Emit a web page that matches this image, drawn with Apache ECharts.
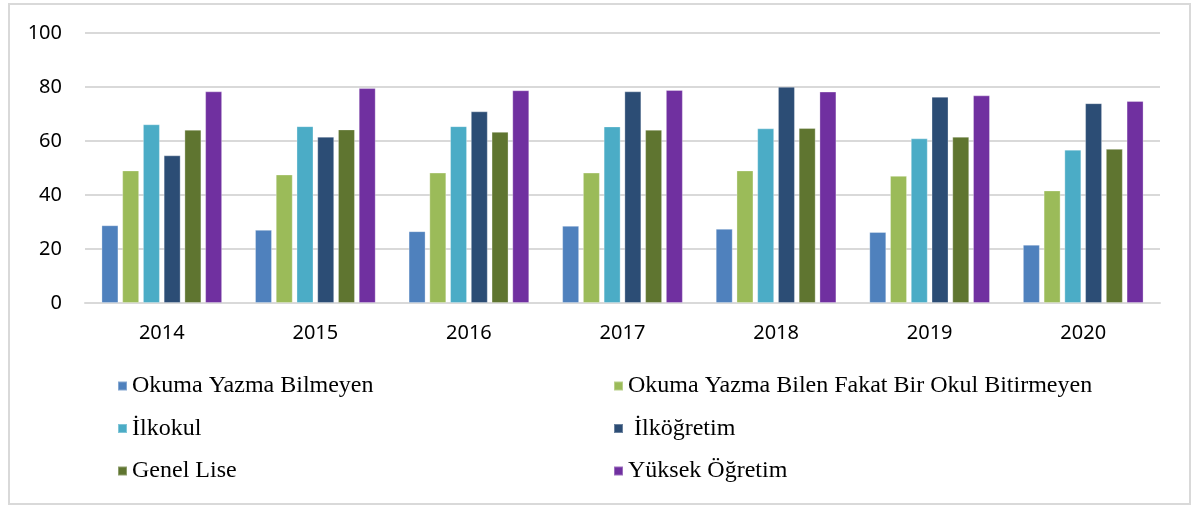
<!DOCTYPE html>
<html>
<head>
<meta charset="utf-8">
<script src="https://cdn.jsdelivr.net/npm/echarts@6/dist/echarts.min.js"></script>
<style>
	html,body{margin:0;padding:0;background:#fff;}
	#wrap{position:absolute;left:8px;top:3px;width:1179px;height:498px;border:2px solid #d9d9d9;}
	#charts{position:absolute;left:0;top:0;width:1197px;height:505px;}
</style>
</head>
<body>
<div id="wrap"></div>
<div id="charts"></div>
<script>
var years = ['2014','2015','2016','2017','2018','2019','2020'];
var okumaYazmaBilmeyen = [28.8, 27.1, 26.6, 28.6, 27.5, 26.3, 21.6];
var okulBitirmeyen = [49.1, 47.6, 48.3, 48.3, 49.1, 47.1, 41.7];
var ilkokul = [66.2, 65.5, 65.5, 65.4, 64.7, 61.0, 56.8];
var ilkogretim = [54.7, 61.6, 71.0, 78.4, 80.1, 76.4, 74.0];
var genelLise = [64.2, 64.3, 63.4, 64.2, 64.8, 61.6, 57.1];
var yuksekOgretim = [78.4, 79.6, 78.8, 78.9, 78.3, 76.9, 74.8];
var yTicks = [0, 20, 40, 60, 80, 100];

var names = ['Okuma Yazma Bilmeyen','Okuma Yazma Bilen Fakat Bir Okul Bitirmeyen','İlkokul',' İlköğretim','Genel Lise','Yüksek Öğretim'];
var colors = ['#4F81BD','#9BBB59','#4BACC6','#2C4D75','#5F7530','#7030A0'];
var values = [okumaYazmaBilmeyen, okulBitirmeyen, ilkokul, ilkogretim, genelLise, yuksekOgretim];

var charts = echarts.init(document.getElementById('charts'));

var series = [];
for(var i=0;i<names.length;i++){
	series.push({
		name: names[i],
		type: 'bar',
		barWidth: 17,
		barGap: '22%',
		data: values[i],
		itemStyle: {
			color: colors[i],
			borderColor: 'rgba(255,255,255,0.3)',
			borderWidth: 1
		}
	});
}

//图例文字样式
var legendText = {
	fontFamily: '"Liberation Serif", "Times New Roman", serif',
	fontSize: 24,
	lineHeight: 24,
	color: '#000'
};

var option = {
	animation: false,
	grid: {
		left: 85,
		right: 37,
		top: 33,
		bottom: 202
	},
	legend: [{
		data: [names[0], names[2], names[4]],
		orient: 'vertical',
		left: 117,
		top: 374,
		padding: 0,
		icon: 'rect',
		itemWidth: 9,
		itemHeight: 9,
		itemGap: 18.5,
		textStyle: legendText
	},{
		data: [names[1], names[3], names[5]],
		orient: 'vertical',
		left: 613,
		top: 374,
		padding: 0,
		icon: 'rect',
		itemWidth: 9,
		itemHeight: 9,
		itemGap: 18.5,
		textStyle: legendText
	}],
	xAxis: {
		type: 'category',
		data: years,
		axisTick: {show: false},
		axisLine: {lineStyle: {color: '#d9d9d9', width: 2}},
		axisLabel: {
			margin: 20,
			fontFamily: '"Noto Sans", sans-serif',
			fontSize: 20,
			color: '#000'
		}
	},
	yAxis: {
		type: 'value',
		min: yTicks[0],
		max: yTicks[yTicks.length-1],
		interval: yTicks[1]-yTicks[0],
		axisLine: {show: false},
		axisTick: {show: false},
		splitLine: {lineStyle: {color: '#d9d9d9', width: 2}},
		axisLabel: {
			margin: 23,
			fontFamily: '"Noto Sans", sans-serif',
			fontSize: 20,
			color: '#000'
		}
	},
	series: series
};
charts.setOption(option);
</script>
</body>
</html>
